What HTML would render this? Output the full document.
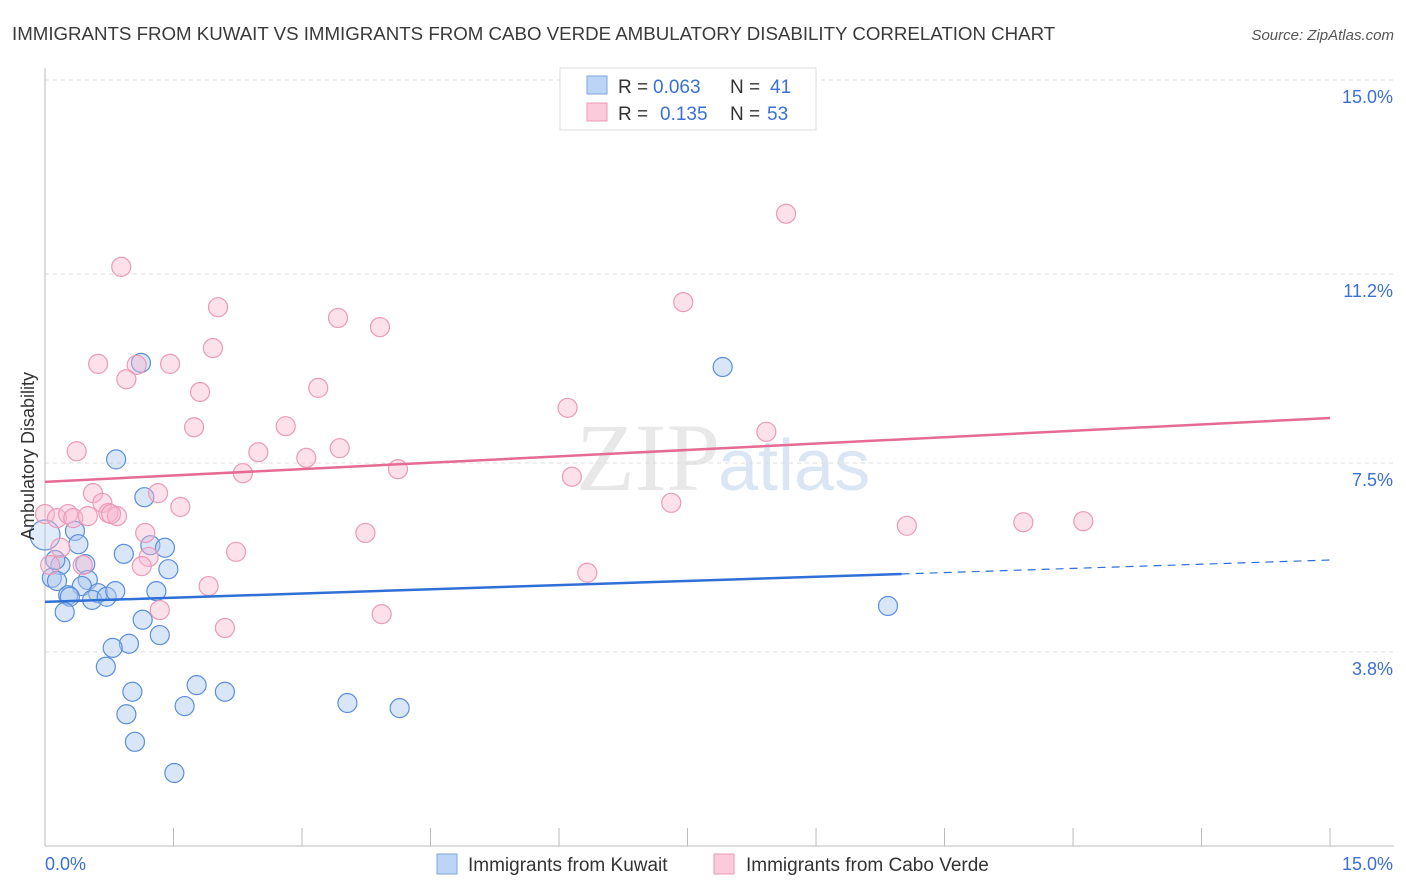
<!DOCTYPE html>
<html><head><meta charset="utf-8"><style>
body{margin:0;background:#fff;font-family:"Liberation Sans",sans-serif;}
svg{display:block}
</style></head><body>
<svg id="chart" width="1406" height="892" xmlns="http://www.w3.org/2000/svg">
<text x="12" y="40" font-size="18.7" fill="#3a3a3a">IMMIGRANTS FROM KUWAIT VS IMMIGRANTS FROM CABO VERDE AMBULATORY DISABILITY CORRELATION CHART</text>
<text x="1394" y="40" font-size="15" fill="#555" text-anchor="end" font-style="italic">Source: ZipAtlas.com</text>
<text x="720" y="490" font-size="96" fill="#e8e8e8" text-anchor="end" font-family="Liberation Serif,serif">ZIP</text>
<text x="718" y="490" font-size="72" fill="#dbe6f5">atlas</text>
<g id="grid"></g><g id="axes"></g><g id="marks"></g>
<g>
<rect x="560" y="68" width="256" height="62" fill="#fff" stroke="#ddd"/>
<rect x="587" y="76" width="20" height="18" fill="#bcd4f5" stroke="#7ea6e0"/>
<rect x="587" y="103" width="20" height="18" fill="#fbcadb" stroke="#eb9ab6"/>
<text x="618" y="93" font-size="19" fill="#333">R =</text>
<text x="653" y="93" font-size="19" fill="#3a6fd8">0.063</text>
<text x="730" y="93" font-size="19" fill="#333">N =</text>
<text x="770" y="93" font-size="19" fill="#3a6fd8">41</text>
<text x="618" y="120" font-size="19" fill="#333">R =</text>
<text x="660" y="120" font-size="19" fill="#3a6fd8">0.135</text>
<text x="730" y="120" font-size="19" fill="#333">N =</text>
<text x="767" y="120" font-size="19" fill="#3a6fd8">53</text>
</g>
<text transform="translate(34,456) rotate(-90)" font-size="18" fill="#333" text-anchor="middle">Ambulatory Disability</text>
<g>
<rect x="437" y="854" width="20" height="20" fill="#bcd4f5" stroke="#7ea6e0"/>
<text x="468" y="871" font-size="19" fill="#333">Immigrants from Kuwait</text>
<rect x="714" y="854" width="20" height="20" fill="#fbcadb" stroke="#eb9ab6"/>
<text x="746" y="871" font-size="19" fill="#333">Immigrants from Cabo Verde</text>
</g>
</svg>
<script>
const kuwaitX=[1.12,7.91,0.83,1.16,0.35,0.39,0.92,1.23,1.40,1.44,0.47,0.18,0.08,0.14,0.50,0.43,0.27,0.29,0.62,0.55,0.72,1.30,0.23,1.14,1.34,0.98,0.79,0.71,1.02,1.77,2.10,1.63,0.95,1.05,1.51,3.53,4.14,9.84,0.0,0.12,0.82];
const kuwaitY=[9.46,9.38,7.57,6.83,6.17,5.91,5.72,5.89,5.84,5.42,5.52,5.50,5.25,5.19,5.21,5.09,4.91,4.88,4.95,4.82,4.88,4.99,4.58,4.43,4.13,3.96,3.88,3.51,3.02,3.15,3.02,2.74,2.58,2.04,1.43,2.80,2.70,4.70,6.09,5.60,4.99];
const caboX=[8.65,0.89,2.02,3.42,3.91,7.45,1.96,0.62,1.46,1.07,0.95,1.81,3.19,6.10,1.74,2.81,8.42,0.37,2.49,3.44,3.05,2.31,4.12,6.15,0.56,1.32,1.58,0.67,7.31,10.06,11.42,12.12,0.0,0.14,0.27,0.33,0.50,0.74,0.84,1.17,3.74,0.18,2.23,1.21,1.13,0.44,0.06,6.33,1.91,1.34,3.93,2.10,0.77];
const caboY=[12.38,11.34,10.55,10.34,10.16,10.65,9.75,9.44,9.44,9.42,9.14,8.89,8.97,8.58,8.20,8.22,8.11,7.73,7.71,7.79,7.60,7.30,7.38,7.23,6.91,6.91,6.64,6.72,6.72,6.27,6.34,6.36,6.50,6.42,6.50,6.42,6.46,6.52,6.46,6.13,6.13,5.84,5.76,5.66,5.48,5.50,5.50,5.35,5.09,4.62,4.54,4.27,6.50];
const yTicks=[15.0,11.2,7.5,3.8];
const yTickLabels=["15.0%","11.2%","7.5%","3.8%"];
const xTicks=[0,1.5,3,4.5,6,7.5,9,10.5,12,13.5,15];
const kuwaitTrend=[4.78,5.60];
const caboTrend=[7.13,8.38];
const kuwaitMaxX=10.0;
const NS="http://www.w3.org/2000/svg";
const sx=v=>45+v*85.67, sy=v=>846-v*51.07;
function mk(tag,attrs,parent){const e=document.createElementNS(NS,tag);for(const k in attrs)e.setAttribute(k,attrs[k]);parent.appendChild(e);return e;}
const grid=document.getElementById('grid'),axes=document.getElementById('axes'),marks=document.getElementById('marks');
yTicks.forEach((t,i)=>{
 const l=mk('line',{x1:45,x2:1394,y1:sy(t),y2:sy(t),stroke:'#ddd','stroke-dasharray':'4,4'},grid);
 
 
 const tx=mk('text',{x:1393,y:sy(t)+23,'font-size':18,fill:'#3a6fd8','text-anchor':'end'},axes);
 tx.textContent=yTickLabels[i];
 
 
});
const ax=mk('line',{x1:45,x2:45,y1:68,y2:846,stroke:'#bbb'},axes);


const bx=mk('line',{x1:45,x2:1394,y1:846,y2:846,stroke:'#bbb'},axes);


xTicks.forEach(t=>{const l=mk('line',{x1:sx(t),x2:sx(t),y1:828,y2:846,stroke:'#bbb'},axes);
 
 });
const x0=mk('text',{x:45,y:870,'font-size':18,fill:'#3a6fd8'},axes);x0.textContent='0.0%';


const x1=mk('text',{x:1393,y:870,'font-size':18,fill:'#3a6fd8','text-anchor':'end'},axes);x1.textContent='15.0%';


kuwaitX.forEach((v,i)=>{const c=mk('circle',{cx:sx(v),cy:sy(kuwaitY[i]),r:i==38?15:9.5,fill:i==38?'rgba(170,200,240,0.35)':'rgba(170,200,240,0.45)',stroke:'#5b8fdc','stroke-width':1.2},marks);
 
 });
caboX.forEach((v,i)=>{const c=mk('circle',{cx:sx(v),cy:sy(caboY[i]),r:9.5,fill:'rgba(248,180,205,0.4)',stroke:'#ec9ab7','stroke-width':1.2},marks);
 
 });
const kAt=x=>kuwaitTrend[0]+(kuwaitTrend[1]-kuwaitTrend[0])*x/15;
const kl=mk('line',{x1:sx(0),y1:sy(kAt(0)),x2:sx(kuwaitMaxX),y2:sy(kAt(kuwaitMaxX)),stroke:'#2f6fd6','stroke-width':2.5},marks);


const kd=mk('line',{x1:sx(kuwaitMaxX),y1:sy(kAt(kuwaitMaxX)),x2:sx(15),y2:sy(kAt(15)),stroke:'#2f6fd6','stroke-width':1.2,'stroke-dasharray':'8,6'},marks);


const cl=mk('line',{x1:sx(0),y1:sy(caboTrend[0]),x2:sx(15),y2:sy(caboTrend[1]),stroke:'#e56b92','stroke-width':2.5},marks);


</script>
</body></html>
